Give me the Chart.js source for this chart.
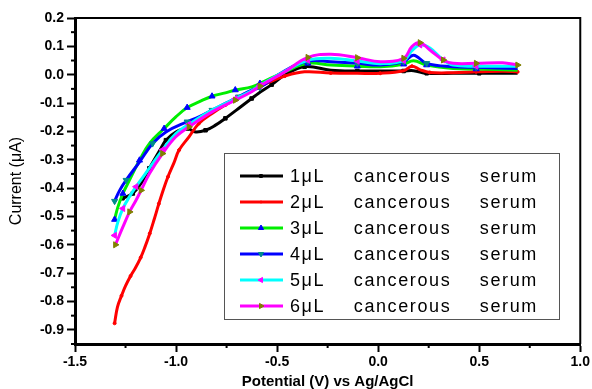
<!DOCTYPE html>
<html>
<head>
<meta charset="utf-8">
<script src="https://cdn.jsdelivr.net/npm/chart.js@4.4.0/dist/chart.umd.min.js"></script>
<style>
html, body { margin: 0; padding: 0; background: #fff; }
</style>
</head>
<body>
<canvas id="myChart" width="592" height="389"></canvas>
<script>
// Potencial (V) y corriente (µA), una serie por volumen
const etiquetas = ['1\u03bcL cancerous serum', '2\u03bcL cancerous serum', '3\u03bcL cancerous serum',
                   '4\u03bcL cancerous serum', '5\u03bcL cancerous serum', '6\u03bcL cancerous serum'];

const pot1 = [-1.265, -1.247, -1.214, -1.17, -1.132, -1.075, -1.05, -1.001, -0.945, -0.903, -0.854, -0.805, -0.756, -0.691, -0.626, -0.593, -0.527, -0.462, -0.364, -0.234, -0.103, 0.011, 0.126, 0.175, 0.24, 0.371, 0.5, 0.69];
const cor1 = [-0.436, -0.431, -0.419, -0.38, -0.33, -0.26, -0.231, -0.202, -0.19, -0.202, -0.196, -0.178, -0.154, -0.119, -0.084, -0.066, -0.035, -0.001, 0.028, 0.016, 0.013, 0.013, 0.013, 0.014, 0.005, 0.005, 0.005, 0.005];

const pot2 = [-1.304, -1.29, -1.27, -1.25, -1.225, -1.2, -1.175, -1.155, -1.13, -1.108, -1.085, -1.065, -1.04, -1.01, -0.985, -0.936, -0.887, -0.822, -0.756, -0.691, -0.626, -0.55, -0.462, -0.364, -0.235, -0.103, 0.01, 0.126, 0.167, 0.206, 0.255, 0.371, 0.485, 0.616, 0.69];
const cor2 = [-0.877, -0.82, -0.78, -0.745, -0.71, -0.68, -0.645, -0.61, -0.56, -0.51, -0.455, -0.41, -0.36, -0.31, -0.266, -0.219, -0.172, -0.137, -0.107, -0.08, -0.056, -0.03, -0.005, 0.01, 0.006, 0.005, 0.005, 0.014, 0.03, 0.018, 0.008, 0.007, 0.01, 0.012, 0.01];

const pot3 = [-1.304, -1.288, -1.263, -1.239, -1.181, -1.132, -1.059, -1.001, -0.945, -0.887, -0.822, -0.756, -0.707, -0.626, -0.585, -0.462, -0.348, -0.234, -0.103, 0.011, 0.126, 0.175, 0.24, 0.371, 0.485, 0.69];
const cor3 = [-0.511, -0.467, -0.419, -0.384, -0.302, -0.243, -0.19, -0.149, -0.116, -0.096, -0.076, -0.064, -0.054, -0.043, -0.031, 0.01, 0.04, 0.034, 0.03, 0.028, 0.037, 0.049, 0.034, 0.022, 0.02, 0.016];

const pot4 = [-1.304, -1.279, -1.247, -1.181, -1.116, -1.05, -0.945, -0.887, -0.822, -0.756, -0.691, -0.626, -0.585, -0.462, -0.348, -0.234, -0.103, 0.011, 0.126, 0.175, 0.24, 0.371, 0.485, 0.69];
const cor4 = [-0.446, -0.408, -0.372, -0.308, -0.243, -0.202, -0.166, -0.149, -0.125, -0.101, -0.078, -0.054, -0.045, 0.014, 0.048, 0.046, 0.04, 0.034, 0.046, 0.069, 0.04, 0.028, 0.026, 0.022];

const pot5 = [-1.304, -1.288, -1.263, -1.23, -1.198, -1.132, -1.067, -1.001, -0.936, -0.822, -0.707, -0.626, -0.585, -0.462, -0.348, -0.234, -0.103, 0.011, 0.126, 0.167, 0.207, 0.256, 0.322, 0.371, 0.485, 0.69];
const cor5 = [-0.567, -0.52, -0.472, -0.43, -0.395, -0.33, -0.265, -0.208, -0.175, -0.125, -0.085, -0.057, -0.038, 0.012, 0.051, 0.058, 0.048, 0.039, 0.05, 0.085, 0.105, 0.094, 0.052, 0.034, 0.03, 0.03];

const pot6 = [-1.3, -1.263, -1.23, -1.198, -1.173, -1.132, -1.067, -1.001, -0.936, -0.822, -0.707, -0.626, -0.585, -0.462, -0.348, -0.234, -0.103, 0.011, 0.126, 0.167, 0.207, 0.256, 0.322, 0.371, 0.485, 0.616, 0.69];
const cor6 = [-0.6, -0.537, -0.484, -0.443, -0.408, -0.349, -0.278, -0.219, -0.184, -0.131, -0.09, -0.06, -0.04, 0.01, 0.061, 0.072, 0.06, 0.046, 0.058, 0.099, 0.113, 0.087, 0.052, 0.04, 0.04, 0.042, 0.034];

const potenciales = [pot1, pot2, pot3, pot4, pot5, pot6];
const corrientes = [cor1, cor2, cor3, cor4, cor5, cor6];

// estilo de cada serie
const colores = ['#000000', '#ff0000', '#00ee00', '#0000ff', '#00ffff', '#ff00ff'];
const colorMarca = ['#000000', '#ff0000', '#0000ff', '#008b8b', '#ff00ff', '#808000'];
const formaMarca = ['rect', 'circle', 'triangle', 'triangle', 'triangle', 'triangle'];
const giroMarca = [0, 0, 0, 180, -90, 90];
const radioMarca = [2.5, 1.5, 3.5, 3.5, 3.5, 3.5];

function esMayor(v, paso) {
    return Math.abs(v / paso - Math.round(v / paso)) < 1e-6;
}

const datasets = etiquetas.map((et, i) => ({
    label: et,
    data: potenciales[i].map((x, k) => ({ x: x, y: corrientes[i][k] })),
    borderColor: colores[i],
    borderWidth: 3,
    showLine: true,
    fill: false,
    tension: 0.4,
    order: 6 - i,
    pointStyle: formaMarca[i],
    rotation: giroMarca[i],
    pointBackgroundColor: colorMarca[i],
    pointBorderColor: colorMarca[i],
    pointBorderWidth: 1,
    pointRadius: c => (c.dataIndex % 2 === 0 ? radioMarca[i] : 0)
}));

// marco, ticks menores y leyenda dentro del área
const extras = {
    id: 'extras',
    afterDraw(chart) {
        const ctx = chart.ctx;
        const a = chart.chartArea;
        const sx = chart.scales.x, sy = chart.scales.y;
        ctx.save();
        ctx.strokeStyle = '#000';
        ctx.lineWidth = 2;
        ctx.beginPath();
        ctx.moveTo(a.left, a.top);
        ctx.lineTo(a.right, a.top);
        ctx.lineTo(a.right, a.bottom);
        ctx.stroke();
        // ticks menores
        ctx.lineWidth = 2;
        sx.ticks.forEach(t => {
            if (esMayor(t.value, 0.5)) return;
            const p = sx.getPixelForValue(t.value);
            ctx.beginPath();
            ctx.moveTo(p, a.bottom);
            ctx.lineTo(p, a.bottom + 4);
            ctx.stroke();
        });
        sy.ticks.forEach(t => {
            if (esMayor(t.value, 0.1)) return;
            const p = sy.getPixelForValue(t.value);
            ctx.beginPath();
            ctx.moveTo(a.left, p);
            ctx.lineTo(a.left - 4, p);
            ctx.stroke();
        });

        // leyenda
        const bx = 224, by = 153, bw = 335, bh = 166;
        ctx.fillStyle = '#fff';
        ctx.fillRect(bx, by, bw, bh);
        ctx.strokeStyle = '#555';
        ctx.lineWidth = 1;
        ctx.strokeRect(bx + 0.5, by + 0.5, bw, bh);
        ctx.font = '18px "Liberation Sans", Arial, sans-serif';
        ctx.textBaseline = 'middle';
        ctx.textAlign = 'left';
        if ('letterSpacing' in ctx) ctx.letterSpacing = '1.6px';
        if ('wordSpacing' in ctx) ctx.wordSpacing = '22px';
        chart.data.datasets.forEach((ds, i) => {
            const y = by + 23 + i * 26;
            ctx.strokeStyle = ds.borderColor;
            ctx.lineWidth = 3;
            ctx.beginPath();
            ctx.moveTo(240, y);
            ctx.lineTo(283, y);
            ctx.stroke();
            ctx.fillStyle = colorMarca[i];
            ctx.strokeStyle = colorMarca[i];
            ctx.lineWidth = 1;
            Chart.helpers.drawPoint(ctx, {
                pointStyle: formaMarca[i], rotation: giroMarca[i], radius: radioMarca[i] - 0.5, borderWidth: 1
            }, 261, y);
            ctx.fillStyle = '#000';
            ctx.fillText(ds.label, 290, y + 1);
        });
        ctx.restore();
    }
};

const fuenteTick = { family: '"Liberation Sans", Arial, sans-serif', size: 14, weight: 'bold' };

const ctx = document.getElementById('myChart').getContext('2d');
const chart = new Chart(ctx, {
    type: 'scatter',
    data: { datasets: datasets },
    options: {
        responsive: false,
        animation: false,
        layout: { padding: { top: 18, right: 8, left: 0, bottom: 0 } },
        plugins: { legend: { display: false }, tooltip: { enabled: false } },
        scales: {
            x: {
                type: 'linear',
                position: 'bottom',
                min: -1.5,
                max: 1.0,
                afterFit: s => { s.height = 45; },
                border: { display: true, width: 3, color: '#000' },
                grid: {
                    drawOnChartArea: false,
                    drawTicks: true,
                    tickLength: 8,
                    tickWidth: 2,
                    tickColor: c => (c.tick && esMayor(c.tick.value, 0.5) ? '#000' : 'rgba(0,0,0,0)')
                },
                ticks: {
                    stepSize: 0.25,
                    autoSkip: false,
                    maxRotation: 0,
                    padding: 2,
                    color: '#000',
                    font: fuenteTick,
                    callback: v => (esMayor(v, 0.5) ? v.toFixed(1) : '')
                },
                title: {
                    display: true,
                    text: 'Potential (V) vs Ag/AgCl',
                    color: '#000',
                    font: { family: '"Liberation Sans", Arial, sans-serif', size: 15, weight: 'bold', lineHeight: 1 },
                    padding: { top: 0, bottom: 0 }
                }
            },
            y: {
                min: -0.95,
                max: 0.2,
                afterFit: s => { s.width = 75; },
                border: { display: true, width: 3, color: '#000' },
                grid: {
                    drawOnChartArea: false,
                    drawTicks: true,
                    tickLength: 8,
                    tickWidth: 2,
                    tickColor: c => (c.tick && esMayor(c.tick.value, 0.1) ? '#000' : 'rgba(0,0,0,0)')
                },
                ticks: {
                    stepSize: 0.05,
                    autoSkip: false,
                    padding: 3,
                    color: '#000',
                    font: fuenteTick,
                    callback: v => (esMayor(v, 0.1) ? v.toFixed(1) : '')
                },
                title: {
                    display: true,
                    text: 'Current (\u03bcA)',
                    color: '#000',
                    font: { family: '"Liberation Sans", Arial, sans-serif', size: 16 },
                    padding: { top: 7, bottom: 0 }
                }
            }
        }
    },
    plugins: [extras]
});
</script>
</body>
</html>
